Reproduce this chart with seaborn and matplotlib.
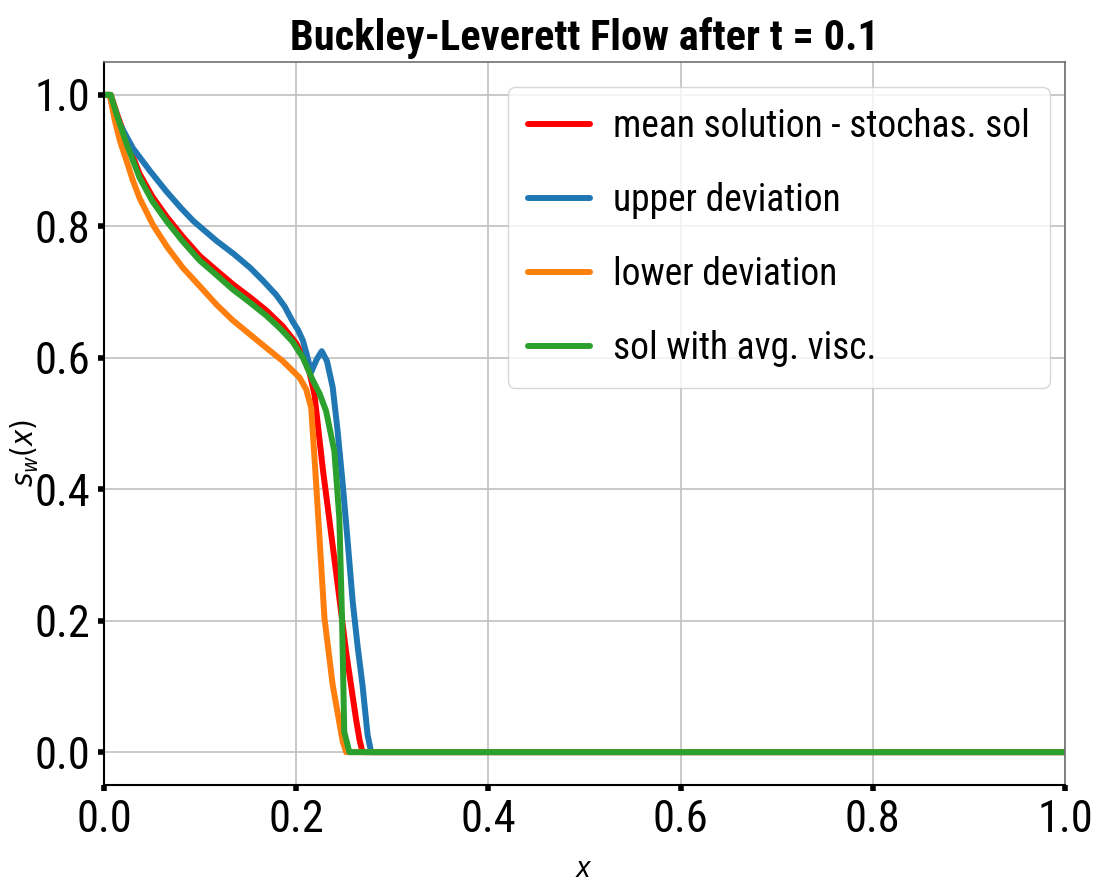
"""Buckley-Leverett saturation profiles at t = 0.1 (stochastic vs. averaged viscosity)."""
import matplotlib

matplotlib.use("Agg")
import matplotlib.pyplot as plt
import pandas as pd
import seaborn as sns
from matplotlib import font_manager

# mean of the stochastic solution
x_mean = [0, 0.007, 0.0132, 0.0236, 0.037, 0.05, 0.065, 0.082, 0.0996, 0.117, 0.134,
          0.152, 0.169, 0.186, 0.2, 0.208, 0.2138, 0.219, 0.2276, 0.2415, 0.252,
          0.2623, 0.266, 0.269, 1.0]
s_mean = [1.0, 1.0, 0.972, 0.93, 0.88, 0.846, 0.815, 0.784, 0.755, 0.733, 0.712,
          0.692, 0.672, 0.648, 0.622, 0.600, 0.578, 0.544, 0.432, 0.274, 0.152,
          0.05, 0.018, 0.0, 0.0]

x_upper = [0, 0.006, 0.010, 0.0166, 0.030, 0.048, 0.065, 0.080, 0.093, 0.117, 0.135,
           0.152, 0.165, 0.179, 0.188, 0.196, 0.202, 0.207, 0.211, 0.2155, 0.2215,
           0.2266, 0.232, 0.238, 0.243, 0.2484, 0.2536, 0.2588, 0.264, 0.269, 0.2743,
           0.278, 1.0]
s_upper = [1.0, 1.0, 0.975, 0.955, 0.919, 0.884, 0.853, 0.828, 0.808, 0.778, 0.758,
           0.737, 0.718, 0.696, 0.678, 0.656, 0.642, 0.626, 0.605, 0.578, 0.598,
           0.610, 0.595, 0.555, 0.49, 0.408, 0.32, 0.229, 0.16, 0.102, 0.026,
           0.0, 0.0]

x_lower = [0, 0.006, 0.0114, 0.017, 0.0236, 0.030, 0.037, 0.051, 0.066, 0.082, 0.0996,
           0.117, 0.134, 0.1515, 0.169, 0.186, 0.2034, 0.2104, 0.2156, 0.2208, 0.2294,
           0.238, 0.2484, 0.252, 1.0]
s_lower = [1.0, 1.0, 0.96, 0.928, 0.899, 0.870, 0.843, 0.802, 0.768, 0.737, 0.709,
           0.681, 0.657, 0.636, 0.615, 0.595, 0.570, 0.552, 0.524, 0.408, 0.204,
           0.102, 0.016, 0.0, 0.0]

x_avg = [0, 0.007, 0.0132, 0.0236, 0.037, 0.05, 0.065, 0.082, 0.0996, 0.117, 0.134,
         0.152, 0.169, 0.183, 0.196, 0.207, 0.2172, 0.2245, 0.2311, 0.2397, 0.2449,
         0.2477, 0.25, 0.2553, 1.0]
s_avg = [1.0, 1.0, 0.97, 0.925, 0.874, 0.839, 0.808, 0.777, 0.748, 0.726, 0.704,
         0.684, 0.664, 0.645, 0.625, 0.600, 0.566, 0.545, 0.519, 0.458, 0.356,
         0.203, 0.031, 0.0, 0.0]

labels = ["mean solution - stochas. sol", "upper deviation",
          "lower deviation", "sol with avg. visc."]
colors = ["red", "tab:blue", "tab:orange", "tab:green"]


def pick_narrow_font():
    # look for any condensed / narrow face among installed fonts
    named, stretched = [], []
    for f in font_manager.fontManager.ttflist:
        low = f.name.lower()
        if "narrow" in low or "condensed" in low:
            named.append(f)
        elif f.stretch in ("condensed", "semi-condensed", "extra-condensed",
                           "ultra-condensed") or (isinstance(f.stretch, int) and f.stretch < 500):
            stretched.append(f)
    for pool in (named, stretched):
        for pref in ("liberation", "dejavu", "noto sans", "roboto", "open sans"):
            for f in pool:
                if f.name.lower().startswith(pref) and "mono" not in f.name.lower() \
                        and "serif" not in f.name.lower():
                    return f.name, f.stretch
        for f in pool:
            if "mono" not in f.name.lower() and "serif" not in f.name.lower():
                return f.name, f.stretch
    return None, "normal"


def main() -> None:
    sns.set_style("whitegrid")
    name, stretch = pick_narrow_font()
    if name is not None:
        plt.rcParams["font.family"] = [name, "DejaVu Sans"]
        plt.rcParams["font.stretch"] = stretch
        fs, fs_title, fs_leg = 32, 30.5, 27
    else:
        plt.rcParams["font.family"] = ["DejaVu Sans"]
        fs, fs_title, fs_leg = 24, 24, 22
    plt.rcParams.update({"text.color": "black", "axes.labelcolor": "black",
                         "xtick.color": "black", "ytick.color": "black"})

    series = [(x_mean, s_mean), (x_upper, s_upper), (x_lower, s_lower), (x_avg, s_avg)]
    frames = []
    for (xs, ys), lab in zip(series, labels):
        frames.append(pd.DataFrame({"x": xs, "s": ys, "curve": lab}))
    df = pd.concat(frames, ignore_index=True)

    fig = plt.figure(figsize=(11.03, 8.86), dpi=100)
    ax = fig.add_axes([0.0943, 0.114, 0.8712, 0.816])
    sns.lineplot(data=df, x="x", y="s", hue="curve", hue_order=labels,
                 palette=colors, sort=False, estimator=None, linewidth=4.3, ax=ax)

    ax.set_xlim(0, 1)
    ax.set_ylim(-0.05, 1.05)
    ax.set_xticks([0, 0.2, 0.4, 0.6, 0.8, 1.0])
    ax.set_yticks([0, 0.2, 0.4, 0.6, 0.8, 1.0])
    ax.tick_params(axis="both", labelsize=fs, length=4, width=4, color="black",
                   direction="out", left=True, bottom=True, pad=6)
    ax.grid(True, color="#c0c0c0", linewidth=1.2)

    for side in ["left", "bottom"]:
        ax.spines[side].set_color("black")
        ax.spines[side].set_linewidth(1.5)
    for side in ["top", "right"]:
        ax.spines[side].set_color("#707070")
        ax.spines[side].set_linewidth(1.2)

    ax.set_title("Buckley-Leverett Flow after t = 0.1", fontsize=fs_title,
                 fontweight="bold", pad=9)
    ax.set_xlabel("$x$", fontsize=20)
    ax.xaxis.set_label_coords(0.499, -0.098)
    ax.set_ylabel("$s_w(x)$", fontsize=22)
    ax.yaxis.set_label_coords(-0.066, 0.46)

    ax.legend(loc="upper right", bbox_to_anchor=(1.0, 0.986), fontsize=fs_leg,
              handlelength=1.65, handletextpad=0.6, labelspacing=0.99,
              borderpad=0.55, borderaxespad=0.4, framealpha=0.8,
              edgecolor="0.8", fancybox=True)

    fig.savefig("out.png", dpi=100)
    plt.close(fig)


if __name__ == "__main__":
    main()
